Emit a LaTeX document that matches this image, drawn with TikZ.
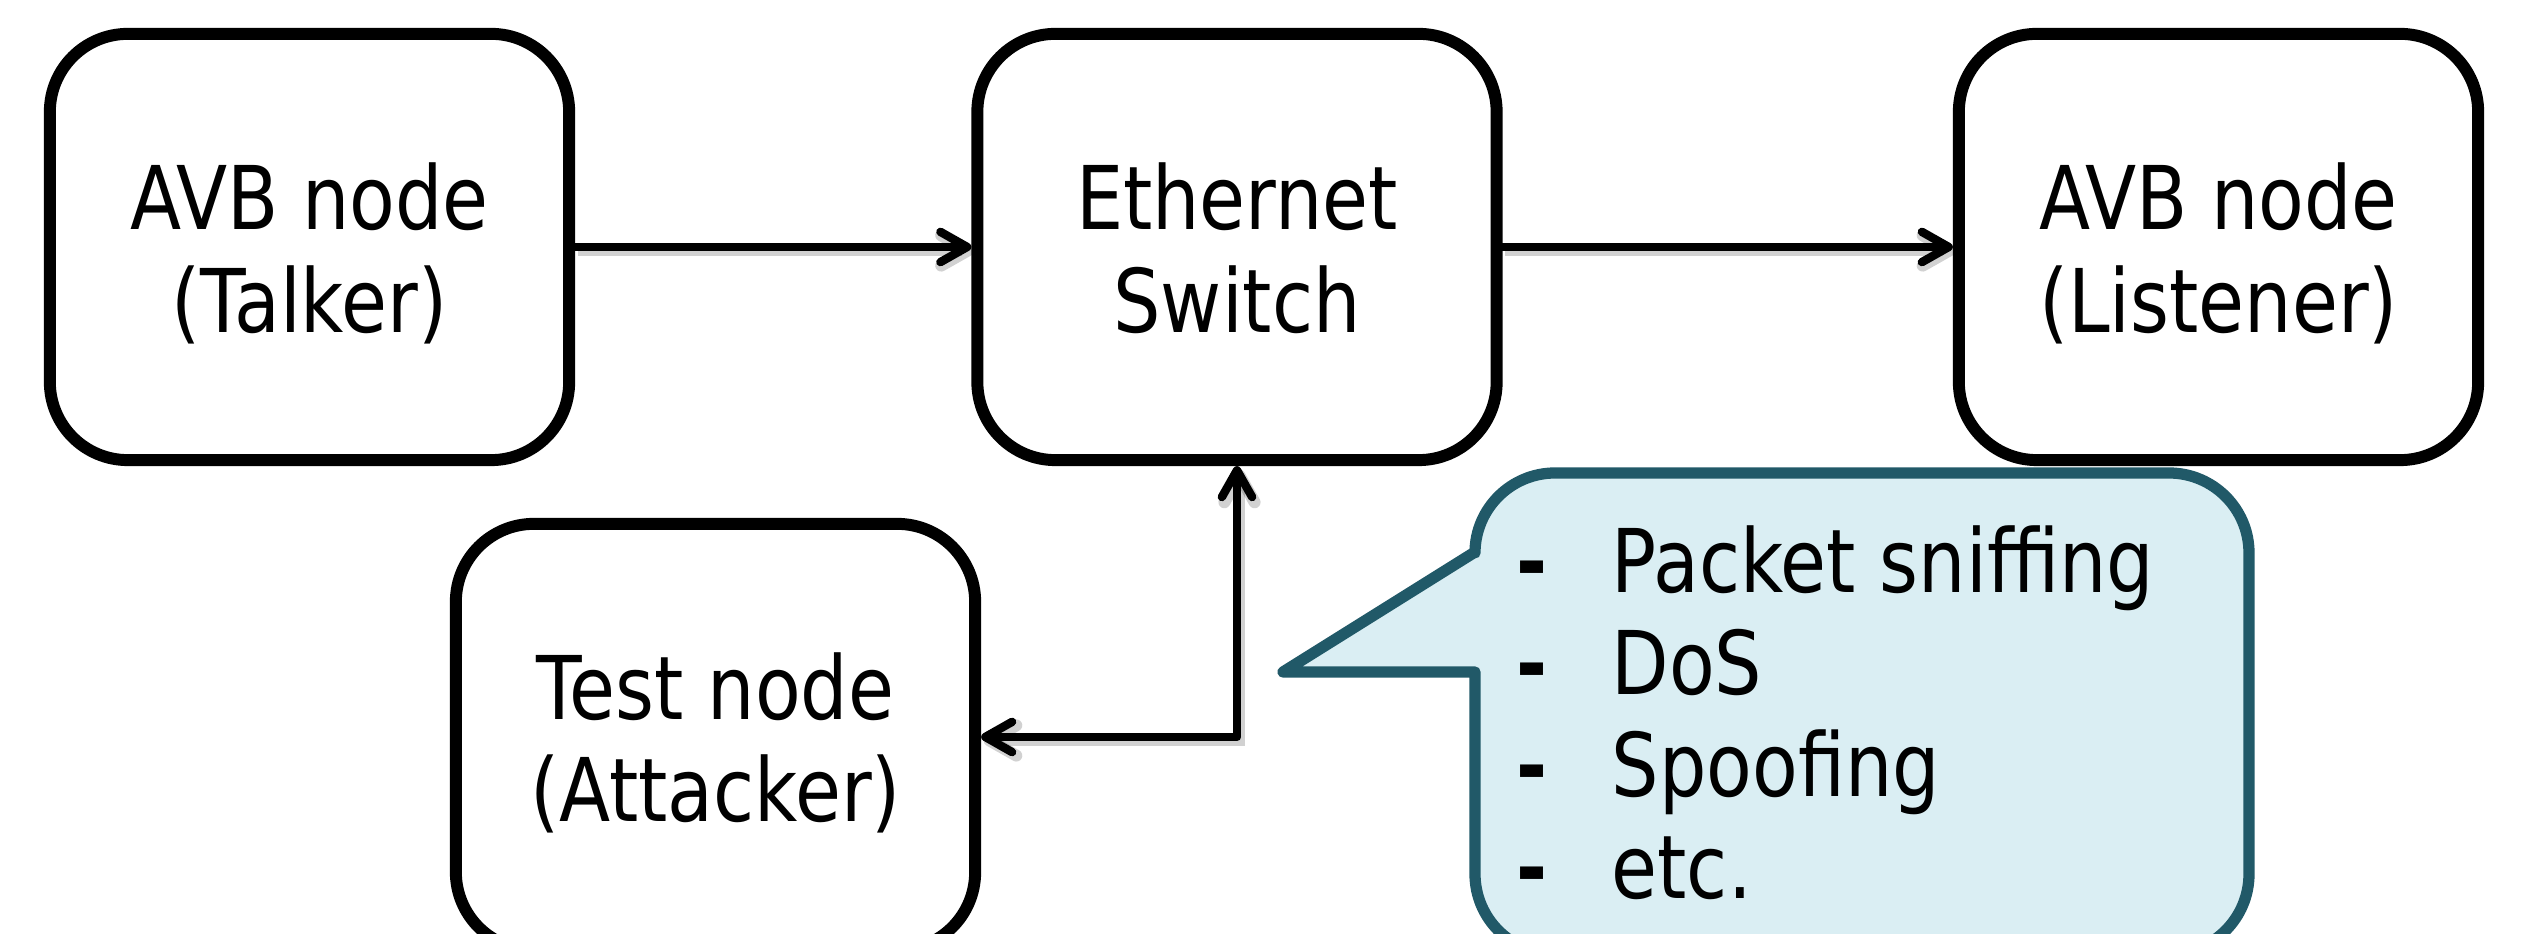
\documentclass[tikz,border=0pt]{standalone}
\usepackage{fontspec}
\setmainfont{DejaVu Sans}[FakeStretch=0.85]
\usetikzlibrary{arrows.meta}

\definecolor{calloutline}{HTML}{215968}
\definecolor{calloutfill}{HTML}{DAEEF3}

\tikzset{
  devbox/.style={draw=black, line width=3.4pt, rounded corners=0.78cm,
    minimum width=5.19cm, minimum height=4.26cm, inner sep=0pt, fill=white},
  boxtext/.style={anchor=base, inner sep=0pt, font=\fontsize{25pt}{29pt}\selectfont},
  listtext/.style={anchor=base west, inner sep=0pt, font=\fontsize{25pt}{29pt}\selectfont},
  bullet/.style={listtext, font=\fontsize{25pt}{29pt}\selectfont\bfseries},
  barb/.tip={Straight Barb[length=7.6pt, width=8.6pt, line cap=round, line join=round]},
  conn/.style={line width=2.4pt, line cap=round, line join=round,
    preaction={draw=black, opacity=0.18, line width=3.4pt,
      transform canvas={shift={(0.025cm,-0.035cm)}}}},
  callout/.style={draw=calloutline, fill=calloutfill, line width=3.2pt, line join=round},
}

\begin{document}
\begin{tikzpicture}[x=0.01cm, y=0.01cm]
  \useasboundingbox (0,0) rectangle (2526,934);
  \clip (0,0) rectangle (2526,934);

  % devices
  \node[devbox] (talker)   at (309.5,687) {};
  \node[devbox] (switch)   at (1237,687)  {};
  \node[devbox] (listener) at (2218.5,687) {};
  \node[devbox] (tester)   at (715.5,197) {};

  \node[boxtext] (talkerA)   at (309.5,704)  {AVB node};
  \node[boxtext] (talkerB)   at (309.5,601)  {(Talker)};
  \node[boxtext] (switchA)   at (1237,704)   {Ethernet};
  \node[boxtext] (switchB)   at (1237,601)   {Switch};
  \node[boxtext] (listenerA) at (2218.5,704) {AVB node};
  \node[boxtext] (listenerB) at (2218.5,601) {(Listener)};
  \node[boxtext] (testerA)   at (715.5,214)  {Test node};
  \node[boxtext] (testerB)   at (715.5,112)  {(Attacker)};

  % links
  \draw[conn, -{barb}] (talker.east) -- (switch.west);
  \draw[conn, -{barb}] (switch.east) -- (listener.west);
  \draw[conn, {barb}-{barb}] (switch.south) |- (tester.east);

  % attack speech bubble
  \draw[callout] (1475,382) -- (1283,262) -- (1475,262) -- (1475,60)
    arc[start angle=180, end angle=270, radius=80] -- (2169,-20)
    arc[start angle=270, end angle=360, radius=80] -- (2249,381)
    arc[start angle=0, end angle=90, radius=80] -- (1555,461)
    arc[start angle=90, end angle=180, radius=80] -- cycle;

  \node[bullet] (d1) at (1516,341) {-};
  \node[bullet] (d2) at (1516,239) {-};
  \node[bullet] (d3) at (1516,137) {-};
  \node[bullet] (d4) at (1516,35)  {-};
  \node[listtext] (a1) at (1611,341) {Packet sniffing};
  \node[listtext] (a2) at (1611,239) {DoS};
  \node[listtext] (a3) at (1611,137) {Spoofing};
  \node[listtext] (a4) at (1611,35)  {etc.};
\end{tikzpicture}
\end{document}
